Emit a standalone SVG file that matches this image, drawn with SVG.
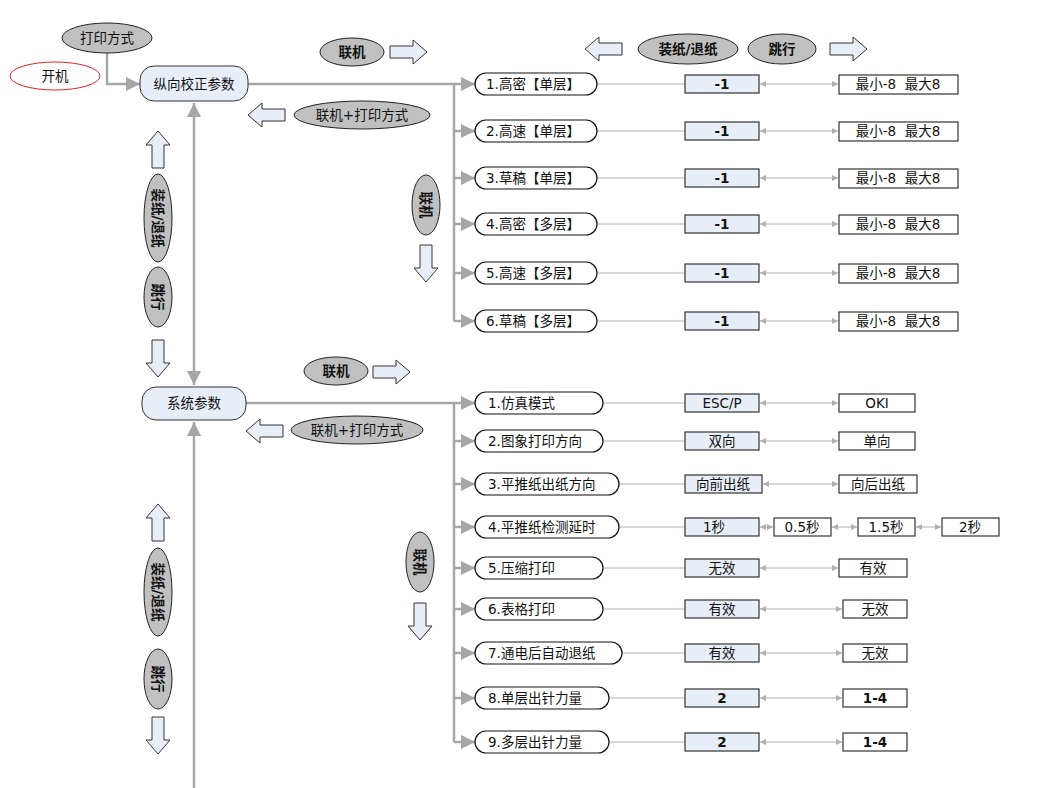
<svg xmlns="http://www.w3.org/2000/svg" width="1038" height="788" viewBox="0 0 1038 788">
<style>
text{font-family:"DejaVu Sans","Noto Sans CJK SC",sans-serif;font-size:13.5px;fill:#111;text-anchor:middle;dominant-baseline:central}
.b{font-weight:bold}
.l{text-anchor:start}
.main{fill:#e8eef8;stroke:#333;stroke-width:1}
.item{fill:#fff;stroke:#111;stroke-width:1.2}
.val{fill:#e8eef8;stroke:#333;stroke-width:1.2}
.opt{fill:#fff;stroke:#333;stroke-width:1.2}
.oval{fill:#c0c0c0;stroke:#222;stroke-width:1}
.blk{fill:#e8eef8;stroke:#333;stroke-width:1}
.thick{stroke:#a6a6a6;stroke-width:2.5;fill:none}
.thin{stroke:#b0b0b0;stroke-width:1;fill:none}
</style>
<defs>
<marker id="big" viewBox="0 0 10 10" refX="10" refY="5" markerWidth="18" markerHeight="14" orient="auto-start-reverse" markerUnits="userSpaceOnUse"><path d="M0,0 L10,5 L0,10Z" fill="#a6a6a6"/></marker>
<marker id="sm" viewBox="0 0 10 10" refX="10" refY="5" markerWidth="7" markerHeight="6" orient="auto-start-reverse" markerUnits="userSpaceOnUse"><path d="M0,0 L10,5 L0,10Z" fill="#b0b0b0"/></marker>
<path id="ra" class="blk" d="M0,-6 H23 V-12 L37,0 L23,12 V6 H0 Z"/>
</defs>

<g id="connectors">
<polyline class="thick" points="107,53 107,84 140,84" marker-end="url(#big)"/>
<line class="thick" x1="248" y1="84" x2="475" y2="84" marker-end="url(#big)"/>
<line class="thick" x1="454" y1="84" x2="454" y2="321"/>
<line class="thick" x1="454" y1="131" x2="475" y2="131" marker-end="url(#big)"/>
<line class="thick" x1="454" y1="178" x2="475" y2="178" marker-end="url(#big)"/>
<line class="thick" x1="454" y1="224" x2="475" y2="224" marker-end="url(#big)"/>
<line class="thick" x1="454" y1="273" x2="475" y2="273" marker-end="url(#big)"/>
<line class="thick" x1="454" y1="321" x2="475" y2="321" marker-end="url(#big)"/>
<line class="thick" x1="194" y1="385" x2="194" y2="103" marker-start="url(#big)" marker-end="url(#big)"/>
<line class="thick" x1="194" y1="788" x2="194" y2="422" marker-end="url(#big)"/>
<line class="thick" x1="246" y1="403" x2="475" y2="403" marker-end="url(#big)"/>
<line class="thick" x1="454" y1="403" x2="454" y2="742"/>
<line class="thick" x1="454" y1="441" x2="475" y2="441" marker-end="url(#big)"/>
<line class="thick" x1="454" y1="484" x2="475" y2="484" marker-end="url(#big)"/>
<line class="thick" x1="454" y1="527" x2="475" y2="527" marker-end="url(#big)"/>
<line class="thick" x1="454" y1="568" x2="475" y2="568" marker-end="url(#big)"/>
<line class="thick" x1="454" y1="609" x2="475" y2="609" marker-end="url(#big)"/>
<line class="thick" x1="454" y1="653" x2="475" y2="653" marker-end="url(#big)"/>
<line class="thick" x1="454" y1="698" x2="475" y2="698" marker-end="url(#big)"/>
<line class="thick" x1="454" y1="742" x2="475" y2="742" marker-end="url(#big)"/>
<g class="thin">
<line x1="597" y1="84" x2="685" y2="84"/><line x1="597" y1="131" x2="685" y2="131"/><line x1="597" y1="178" x2="685" y2="178"/>
<line x1="597" y1="224" x2="685" y2="224"/><line x1="597" y1="273" x2="685" y2="273"/><line x1="597" y1="321" x2="685" y2="321"/>
<line x1="603" y1="403" x2="685" y2="403"/><line x1="603" y1="441" x2="685" y2="441"/><line x1="619" y1="484" x2="685" y2="484"/>
<line x1="619" y1="527" x2="685" y2="527"/><line x1="603" y1="568" x2="685" y2="568"/><line x1="603" y1="609" x2="685" y2="609"/>
<line x1="622" y1="653" x2="685" y2="653"/><line x1="609" y1="698" x2="685" y2="698"/><line x1="609" y1="742" x2="685" y2="742"/>
</g>
<g class="thin">
<line x1="760" y1="84" x2="838" y2="84" marker-start="url(#sm)" marker-end="url(#sm)"/>
<line x1="760" y1="131" x2="838" y2="131" marker-start="url(#sm)" marker-end="url(#sm)"/>
<line x1="760" y1="178" x2="838" y2="178" marker-start="url(#sm)" marker-end="url(#sm)"/>
<line x1="760" y1="224" x2="838" y2="224" marker-start="url(#sm)" marker-end="url(#sm)"/>
<line x1="760" y1="273" x2="838" y2="273" marker-start="url(#sm)" marker-end="url(#sm)"/>
<line x1="760" y1="321" x2="838" y2="321" marker-start="url(#sm)" marker-end="url(#sm)"/>
<line x1="760" y1="403" x2="838" y2="403" marker-start="url(#sm)" marker-end="url(#sm)"/>
<line x1="760" y1="441" x2="838" y2="441" marker-start="url(#sm)" marker-end="url(#sm)"/>
<line x1="763" y1="484" x2="838" y2="484" marker-start="url(#sm)" marker-end="url(#sm)"/>
<line x1="760" y1="527" x2="773" y2="527" marker-start="url(#sm)" marker-end="url(#sm)"/>
<line x1="832" y1="527" x2="857" y2="527" marker-start="url(#sm)" marker-end="url(#sm)"/>
<line x1="916" y1="527" x2="941" y2="527" marker-start="url(#sm)" marker-end="url(#sm)"/>
<line x1="760" y1="568" x2="838" y2="568" marker-start="url(#sm)" marker-end="url(#sm)"/>
<line x1="760" y1="609" x2="842" y2="609" marker-start="url(#sm)" marker-end="url(#sm)"/>
<line x1="760" y1="653" x2="842" y2="653" marker-start="url(#sm)" marker-end="url(#sm)"/>
<line x1="760" y1="698" x2="842" y2="698" marker-start="url(#sm)" marker-end="url(#sm)"/>
<line x1="760" y1="742" x2="842" y2="742" marker-start="url(#sm)" marker-end="url(#sm)"/>
</g>
</g>

<g id="block-arrows">
<use href="#ra" transform="translate(390,52)"/>
<use href="#ra" transform="translate(285,115) scale(-1,1)"/>
<use href="#ra" transform="translate(622,49) scale(-1,1)"/>
<use href="#ra" transform="translate(830,49)"/>
<use href="#ra" transform="translate(158,168) rotate(-90)"/>
<use href="#ra" transform="translate(158,340) rotate(90)"/>
<use href="#ra" transform="translate(426,245) rotate(90)"/>
<use href="#ra" transform="translate(373,372)"/>
<use href="#ra" transform="translate(283,431) scale(-1,1)"/>
<use href="#ra" transform="translate(158,541) rotate(-90)"/>
<use href="#ra" transform="translate(158,717) rotate(90)"/>
<use href="#ra" transform="translate(420,603) rotate(90)"/>
</g>

<g id="n-print"><ellipse class="oval" cx="107" cy="38" rx="45" ry="15"/><text x="107" y="38">打印方式</text></g>
<g id="n-power"><ellipse cx="55" cy="76" rx="45" ry="14" fill="#fff" stroke="#d22" stroke-width="1"/><text x="55" y="76">开机</text></g>
<g id="n-vcal"><rect class="main" x="140" y="66" width="108" height="35" rx="14"/><text x="194" y="84">纵向校正参数</text></g>
<g id="n-online1"><ellipse class="oval" cx="352" cy="52" rx="32" ry="14"/><text class="b" x="352" y="52">联机</text></g>
<g id="n-onlineprint1"><ellipse class="oval" cx="362" cy="115" rx="68" ry="14"/><text x="362" y="115">联机+打印方式</text></g>
<g id="n-feed-top"><ellipse class="oval" cx="688" cy="49" rx="50" ry="15"/><text class="b" x="688" y="49">装纸/退纸</text></g>
<g id="n-skip-top"><ellipse class="oval" cx="782" cy="49" rx="34" ry="15"/><text class="b" x="782" y="49">跳行</text></g>
<g id="n-feed1"><ellipse class="oval" cx="158" cy="218" rx="14" ry="44"/><text class="b" font-size="12" transform="translate(158,218) rotate(90)">装纸/退纸</text></g>
<g id="n-skip1"><ellipse class="oval" cx="158" cy="297" rx="14" ry="30"/><text class="b" font-size="13" transform="translate(158,297) rotate(90)">跳行</text></g>
<g id="n-online-v1"><ellipse class="oval" cx="426" cy="205" rx="14" ry="30"/><text class="b" font-size="13" transform="translate(426,205) rotate(90)">联机</text></g>

<g id="items1">
<rect class="item" x="475" y="73" width="122" height="22" rx="11"/><text class="l" x="486" y="84">1.高密【单层】</text>
<rect class="item" x="475" y="120" width="122" height="22" rx="11"/><text class="l" x="486" y="131">2.高速【单层】</text>
<rect class="item" x="475" y="167" width="122" height="22" rx="11"/><text class="l" x="486" y="178">3.草稿【单层】</text>
<rect class="item" x="475" y="213" width="122" height="22" rx="11"/><text class="l" x="486" y="224">4.高密【多层】</text>
<rect class="item" x="475" y="262" width="122" height="22" rx="11"/><text class="l" x="486" y="273">5.高速【多层】</text>
<rect class="item" x="475" y="310" width="122" height="22" rx="11"/><text class="l" x="486" y="321">6.草稿【多层】</text>
</g>
<g id="vals1">
<rect class="val" x="685" y="75" width="74" height="18"/><text class="b" x="722" y="84">-1</text>
<rect class="val" x="685" y="122" width="74" height="18"/><text class="b" x="722" y="131">-1</text>
<rect class="val" x="685" y="169" width="74" height="18"/><text class="b" x="722" y="178">-1</text>
<rect class="val" x="685" y="215" width="74" height="18"/><text class="b" x="722" y="224">-1</text>
<rect class="val" x="685" y="264" width="74" height="18"/><text class="b" x="722" y="273">-1</text>
<rect class="val" x="685" y="312" width="74" height="18"/><text class="b" x="722" y="321">-1</text>
<rect class="opt" x="839" y="75" width="119" height="19"/><text x="898" y="84" xml:space="preserve">最小-8  最大8</text>
<rect class="opt" x="839" y="122" width="119" height="19"/><text x="898" y="131" xml:space="preserve">最小-8  最大8</text>
<rect class="opt" x="839" y="169" width="119" height="19"/><text x="898" y="178" xml:space="preserve">最小-8  最大8</text>
<rect class="opt" x="839" y="215" width="119" height="19"/><text x="898" y="224" xml:space="preserve">最小-8  最大8</text>
<rect class="opt" x="839" y="264" width="119" height="19"/><text x="898" y="273" xml:space="preserve">最小-8  最大8</text>
<rect class="opt" x="839" y="312" width="119" height="19"/><text x="898" y="321" xml:space="preserve">最小-8  最大8</text>
</g>

<g id="n-sys"><rect class="main" x="142" y="387" width="104" height="33" rx="14"/><text x="194" y="403">系统参数</text></g>
<g id="n-online2"><ellipse class="oval" cx="336" cy="371" rx="32" ry="14"/><text class="b" x="336" y="371">联机</text></g>
<g id="n-onlineprint2"><ellipse class="oval" cx="357" cy="430" rx="66" ry="14"/><text x="357" y="430">联机+打印方式</text></g>
<g id="n-feed2"><ellipse class="oval" cx="158" cy="592" rx="14" ry="44"/><text class="b" font-size="12" transform="translate(158,592) rotate(90)">装纸/退纸</text></g>
<g id="n-skip2"><ellipse class="oval" cx="158" cy="679" rx="14" ry="30"/><text class="b" font-size="13" transform="translate(158,679) rotate(90)">跳行</text></g>
<g id="n-online-v2"><ellipse class="oval" cx="420" cy="562" rx="14" ry="30"/><text class="b" font-size="13" transform="translate(420,562) rotate(90)">联机</text></g>

<g id="items2">
<rect class="item" x="475" y="392" width="128" height="22" rx="11"/><text class="l" x="488" y="403">1.仿真模式</text>
<rect class="item" x="475" y="430" width="128" height="22" rx="11"/><text class="l" x="488" y="441">2.图象打印方向</text>
<rect class="item" x="475" y="473" width="144" height="22" rx="11"/><text class="l" x="488" y="484">3.平推纸出纸方向</text>
<rect class="item" x="475" y="516" width="144" height="22" rx="11"/><text class="l" x="488" y="527">4.平推纸检测延时</text>
<rect class="item" x="475" y="557" width="128" height="22" rx="11"/><text class="l" x="488" y="568">5.压缩打印</text>
<rect class="item" x="475" y="598" width="128" height="22" rx="11"/><text class="l" x="488" y="609">6.表格打印</text>
<rect class="item" x="475" y="642" width="147" height="22" rx="11"/><text class="l" x="488" y="653">7.通电后自动退纸</text>
<rect class="item" x="475" y="687" width="134" height="22" rx="11"/><text class="l" x="488" y="698">8.单层出针力量</text>
<rect class="item" x="475" y="731" width="134" height="22" rx="11"/><text class="l" x="488" y="742">9.多层出针力量</text>
</g>
<g id="vals2">
<rect class="val" x="685" y="394" width="74" height="18"/><text x="722" y="403">ESC/P</text>
<rect class="opt" x="839" y="394" width="76" height="18"/><text x="877" y="403">OKI</text>
<rect class="val" x="685" y="432" width="74" height="18"/><text x="722" y="441">双向</text>
<rect class="opt" x="839" y="432" width="76" height="18"/><text x="877" y="441">单向</text>
<rect class="val" x="685" y="475" width="77" height="18"/><text x="723" y="484">向前出纸</text>
<rect class="opt" x="839" y="475" width="78" height="18"/><text x="878" y="484">向后出纸</text>
<rect class="val" x="685" y="518" width="74" height="18"/><text x="714" y="527">1秒</text>
<rect class="opt" x="774" y="518" width="57" height="18"/><text x="802" y="527">0.5秒</text>
<rect class="opt" x="858" y="518" width="57" height="18"/><text x="886" y="527">1.5秒</text>
<rect class="opt" x="942" y="518" width="57" height="18"/><text x="970" y="527">2秒</text>
<rect class="val" x="685" y="559" width="74" height="18"/><text x="722" y="568">无效</text>
<rect class="opt" x="839" y="559" width="68" height="18"/><text x="873" y="568">有效</text>
<rect class="val" x="685" y="600" width="74" height="18"/><text x="722" y="609">有效</text>
<rect class="opt" x="843" y="600" width="64" height="18"/><text x="875" y="609">无效</text>
<rect class="val" x="685" y="644" width="74" height="18"/><text x="722" y="653">有效</text>
<rect class="opt" x="843" y="644" width="64" height="18"/><text x="875" y="653">无效</text>
<rect class="val" x="685" y="689" width="74" height="18"/><text class="b" x="722" y="698">2</text>
<rect class="opt" x="843" y="689" width="64" height="18"/><text class="b" x="875" y="698">1-4</text>
<rect class="val" x="685" y="733" width="74" height="18"/><text class="b" x="722" y="742">2</text>
<rect class="opt" x="843" y="733" width="64" height="18"/><text class="b" x="875" y="742">1-4</text>
</g>
</svg>
